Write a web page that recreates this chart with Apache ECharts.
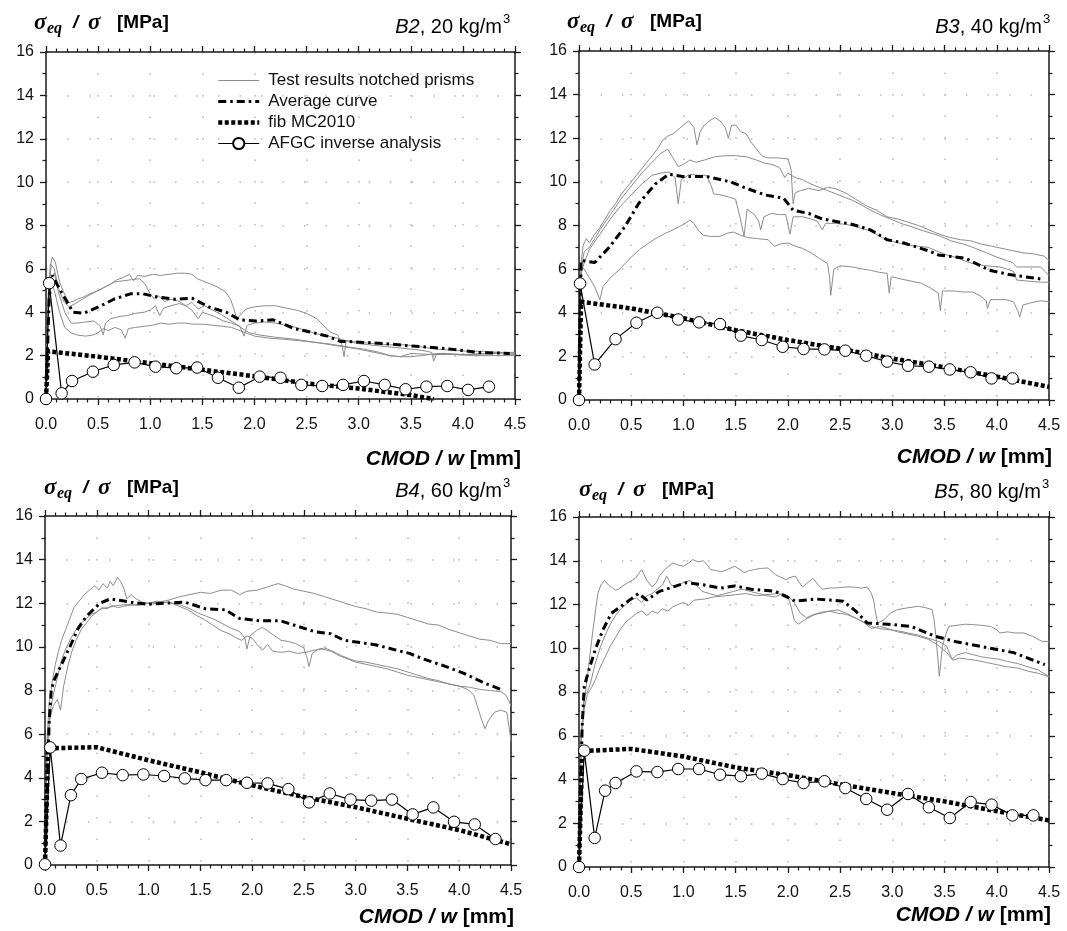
<!DOCTYPE html>
<html><head><meta charset="utf-8">
<script src="https://cdn.jsdelivr.net/npm/echarts@6/dist/echarts.min.js"></script>
<style>html,body{margin:0;padding:0;background:#fff}#c{width:1067px;height:931px}</style>
</head><body><div id="c"></div>
<script>
// ---------- DATA ----------
const panelLabels = ['B2', 'B3', 'B4', 'B5'];
const dosages = ['20', '40', '60', '80'];
const seriesNames = ['Test results notched prisms', 'Average curve', 'fib MC2010', 'AFGC inverse analysis'];

// B2, 20 kg/m3
const b2Test1 = [[0,0],[0.02,4.8],[0.04,6.1],[0.06,6.55],[0.09,6.3],[0.13,5.4],[0.18,4.8],[0.22,4.45],[0.26,4.5],[0.3,4.6],[0.36,4.7],[0.42,4.85],[0.5,5.0],[0.56,5.15],[0.62,5.3],[0.68,5.5],[0.74,5.6],[0.8,5.75],[0.84,5.45],[0.88,5.7],[0.95,5.65],[1.02,5.75],[1.1,5.7],[1.18,5.75],[1.26,5.8],[1.34,5.8],[1.4,5.75],[1.45,5.55],[1.5,5.45],[1.58,5.3],[1.65,5.15],[1.72,4.95],[1.77,4.6],[1.8,4.2],[1.83,3.7],[1.87,3.9],[1.92,4.15],[2.0,4.25],[2.1,4.3],[2.2,4.3],[2.3,4.2],[2.4,4.1],[2.5,3.95],[2.6,3.7],[2.66,3.4],[2.72,3.1],[2.8,2.95],[2.84,2.5],[2.86,1.95],[2.88,2.7],[2.95,2.65],[3.05,2.6],[3.15,2.55],[3.3,2.5],[3.45,2.5],[3.6,2.4],[3.75,2.3],[3.9,2.25],[4.05,2.2],[4.2,2.2],[4.35,2.15],[4.5,2.15]];
const b2Test2 = [[0,0],[0.02,4.5],[0.05,6.2],[0.08,6.0],[0.12,5.1],[0.17,4.5],[0.22,4.25],[0.28,4.4],[0.35,4.6],[0.42,4.8],[0.5,5.0],[0.58,5.2],[0.66,5.4],[0.74,5.45],[0.82,5.5],[0.9,5.55],[0.95,5.3],[1.0,4.85],[1.04,4.6],[1.08,4.75],[1.14,4.5],[1.2,4.6],[1.28,4.5],[1.34,4.3],[1.4,4.45],[1.46,4.15],[1.52,4.3],[1.6,4.1],[1.68,3.9],[1.76,3.65],[1.84,3.4],[1.9,3.2],[1.95,3.05],[2.05,2.95],[2.2,2.85],[2.4,2.75],[2.6,2.6],[2.8,2.45],[3.0,2.3],[3.15,2.15],[3.3,2.0],[3.4,1.95],[3.5,2.1],[3.7,2.05],[3.9,2.05],[4.1,2.05],[4.3,2.1],[4.5,2.05]];
const b2Test3 = [[0,0],[0.02,4.2],[0.05,5.6],[0.08,5.8],[0.12,4.9],[0.18,4.0],[0.24,3.5],[0.3,3.5],[0.38,3.55],[0.46,3.6],[0.52,3.35],[0.55,2.95],[0.57,3.5],[0.62,3.7],[0.7,3.8],[0.78,3.85],[0.86,3.95],[0.94,4.0],[1.0,4.1],[1.05,4.3],[1.09,3.85],[1.13,4.2],[1.2,4.3],[1.28,4.4],[1.34,4.3],[1.4,4.1],[1.46,3.7],[1.5,4.0],[1.56,3.9],[1.62,3.8],[1.7,3.6],[1.78,3.5],[1.86,3.35],[1.9,2.9],[1.93,3.4],[2.0,3.5],[2.1,3.55],[2.2,3.5],[2.3,3.4],[2.4,3.3],[2.5,3.15],[2.6,3.0],[2.7,2.9],[2.8,2.8],[2.9,2.65],[3.0,2.55],[3.1,2.5],[3.2,2.45],[3.3,2.4],[3.4,2.35],[3.5,2.3],[3.6,2.25],[3.7,2.15],[3.72,1.75],[3.75,2.1],[3.85,2.1],[4.0,2.05],[4.2,2.1],[4.35,2.15],[4.5,2.1]];
const b2Test4 = [[0,0],[0.02,4.0],[0.05,5.4],[0.08,5.0],[0.13,4.0],[0.18,3.3],[0.24,3.05],[0.3,2.95],[0.38,2.9],[0.45,2.95],[0.5,3.05],[0.55,3.25],[0.6,3.15],[0.66,3.3],[0.72,3.2],[0.76,2.8],[0.79,3.25],[0.86,3.3],[0.94,3.35],[1.02,3.4],[1.1,3.5],[1.18,3.45],[1.26,3.5],[1.34,3.5],[1.42,3.45],[1.5,3.45],[1.6,3.4],[1.7,3.35],[1.78,3.3],[1.86,3.15],[1.92,3.05],[2.0,2.9],[2.15,2.8],[2.3,2.75],[2.5,2.65],[2.7,2.55],[2.9,2.4],[3.05,2.3],[3.2,2.15],[3.3,2.0],[3.4,1.95],[3.5,1.95],[3.6,2.0],[3.75,2.1],[3.9,2.05],[4.1,2.0],[4.3,2.0],[4.5,2.0]];
const b2Avg = [[0,0],[0.03,4.6],[0.06,5.7],[0.15,4.9],[0.26,4.0],[0.36,3.95],[0.55,4.35],[0.65,4.6],[0.81,4.85],[0.93,4.85],[1.07,4.7],[1.24,4.6],[1.4,4.65],[1.56,4.25],[1.73,4.0],[1.86,3.65],[2.02,3.6],[2.18,3.65],[2.38,3.25],[2.57,3.05],[2.7,2.9],[2.83,2.65],[2.9,2.65],[3.09,2.6],[3.26,2.55],[3.49,2.45],[3.65,2.4],[3.88,2.3],[4.14,2.15],[4.45,2.1]];
const b2Fib = [[0,0],[0.02,2.2],[0.5,1.95],[1.0,1.65],[1.5,1.35],[2.0,1.05],[2.5,0.72],[3.0,0.48],[3.5,0.18],[3.72,0]];
const b2AfgcW = [0,0.03,0.15,0.25,0.45,0.65,0.85,1.05,1.25,1.45,1.65,1.85,2.05,2.25,2.45,2.65,2.85,3.05,3.25,3.45,3.65,3.85,4.05,4.25];
const b2AfgcS = [0,5.34,0.26,0.83,1.26,1.57,1.69,1.49,1.42,1.45,0.98,0.52,1.03,0.98,0.65,0.6,0.65,0.83,0.65,0.45,0.57,0.6,0.42,0.57];

// B3, 40 kg/m3
const b3Test1 = [[0,0],[0.02,6.3],[0.04,7.1],[0.07,7.4],[0.1,7.2],[0.15,7.6],[0.2,7.9],[0.25,8.3],[0.3,8.7],[0.35,9.0],[0.4,9.4],[0.45,9.7],[0.5,10.0],[0.55,10.3],[0.6,10.6],[0.65,10.9],[0.7,11.2],[0.75,11.5],[0.8,11.9],[0.85,12.1],[0.9,12.2],[0.95,12.4],[1.0,12.6],[1.05,12.8],[1.1,12.5],[1.13,11.7],[1.16,12.3],[1.2,12.6],[1.25,12.8],[1.3,12.95],[1.35,12.8],[1.4,12.5],[1.43,12.0],[1.46,12.6],[1.5,12.6],[1.55,12.3],[1.6,12.2],[1.65,11.8],[1.7,11.5],[1.75,11.2],[1.8,11.1],[1.9,11.1],[2.0,11.05],[2.03,10.6],[2.05,9.0],[2.07,9.5],[2.12,9.6],[2.2,9.7],[2.3,9.6],[2.38,9.75],[2.45,9.7],[2.55,9.5],[2.65,9.2],[2.75,8.9],[2.85,8.7],[2.95,8.4],[3.05,8.3],[3.15,8.15],[3.25,8.0],[3.35,7.8],[3.45,7.6],[3.55,7.45],[3.65,7.35],[3.75,7.3],[3.85,7.15],[3.95,7.05],[4.05,6.95],[4.15,6.85],[4.25,6.75],[4.35,6.7],[4.45,6.6],[4.5,6.4]];
const b3Test2 = [[0,0],[0.02,6.0],[0.05,6.8],[0.1,7.0],[0.15,7.4],[0.2,7.8],[0.3,8.5],[0.4,9.2],[0.5,9.8],[0.6,10.4],[0.7,10.9],[0.78,11.3],[0.85,11.5],[0.9,11.1],[0.95,10.7],[1.0,10.8],[1.06,11.0],[1.12,10.9],[1.2,11.0],[1.3,11.15],[1.4,11.2],[1.5,11.2],[1.6,11.15],[1.7,11.0],[1.78,10.85],[1.85,10.8],[1.92,10.65],[1.97,10.2],[2.0,10.4],[2.07,10.2],[2.14,10.1],[2.22,9.9],[2.3,9.75],[2.38,9.6],[2.46,9.45],[2.54,9.3],[2.62,9.15],[2.7,8.95],[2.79,8.7],[2.88,8.5],[2.98,8.3],[3.08,8.1],[3.18,7.95],[3.3,7.75],[3.44,7.55],[3.56,7.3],[3.68,7.15],[3.77,7.0],[3.9,6.75],[4.0,6.55],[4.09,6.4],[4.15,6.3],[4.19,6.1],[4.3,6.1],[4.42,6.1],[4.46,5.9],[4.5,5.7]];
const b3Test3 = [[0,0],[0.02,5.8],[0.05,6.3],[0.1,6.9],[0.2,7.6],[0.3,8.3],[0.4,8.9],[0.5,9.4],[0.6,9.9],[0.7,10.3],[0.78,10.4],[0.86,10.45],[0.92,10.2],[0.95,9.0],[0.98,10.1],[1.06,10.35],[1.14,10.3],[1.22,10.3],[1.26,9.9],[1.29,9.45],[1.36,9.4],[1.44,9.3],[1.5,9.2],[1.55,8.2],[1.58,7.5],[1.61,8.75],[1.68,8.5],[1.72,8.2],[1.74,7.8],[1.77,8.4],[1.84,8.55],[1.92,8.5],[1.98,8.5],[2.02,7.6],[2.05,8.4],[2.14,8.4],[2.22,8.3],[2.28,8.2],[2.33,7.8],[2.36,8.1],[2.45,8.1],[2.56,8.05],[2.68,7.9],[2.79,7.75],[2.9,7.45],[2.98,7.3],[3.06,7.2],[3.14,7.1],[3.24,7.05],[3.34,7.0],[3.44,6.8],[3.52,6.65],[3.6,6.55],[3.68,6.4],[3.77,6.25],[3.9,6.15],[4.03,6.1],[4.1,6.0],[4.16,5.9],[4.19,5.5],[4.3,5.45],[4.42,5.4],[4.5,5.4]];
const b3Test4 = [[0,0],[0.02,6.1],[0.05,6.0],[0.1,5.6],[0.15,5.2],[0.2,4.6],[0.23,5.2],[0.3,5.6],[0.38,5.95],[0.45,6.3],[0.5,6.55],[0.58,6.9],[0.67,7.2],[0.75,7.45],[0.83,7.65],[0.9,7.8],[0.96,7.95],[1.02,8.1],[1.06,8.25],[1.1,8.1],[1.14,7.8],[1.19,7.55],[1.26,7.5],[1.35,7.5],[1.42,7.65],[1.48,7.7],[1.55,7.55],[1.61,7.45],[1.7,7.4],[1.81,7.35],[1.87,7.05],[1.93,7.15],[2.0,7.2],[2.07,7.05],[2.14,6.95],[2.22,6.75],[2.3,6.5],[2.38,6.25],[2.4,5.6],[2.41,4.8],[2.44,6.0],[2.5,6.15],[2.62,6.1],[2.72,6.0],[2.79,5.95],[2.88,5.85],[2.95,5.8],[2.97,4.9],[2.99,5.65],[3.08,5.55],[3.18,5.45],[3.28,5.35],[3.36,5.15],[3.44,4.9],[3.46,4.1],[3.48,5.0],[3.58,5.0],[3.68,4.95],[3.77,4.95],[3.85,4.75],[3.9,4.55],[3.91,4.2],[3.94,4.6],[4.02,4.6],[4.09,4.6],[4.16,4.5],[4.2,4.1],[4.22,3.8],[4.25,4.35],[4.32,4.45],[4.42,4.55],[4.5,4.5]];
const b3Avg = [[0,0],[0.02,6.4],[0.15,6.3],[0.29,7.0],[0.44,7.95],[0.57,9.0],[0.73,9.9],[0.86,10.35],[0.99,10.25],[1.22,10.25],[1.45,10.0],[1.58,9.75],[1.78,9.4],[1.96,9.25],[2.05,8.7],[2.2,8.55],[2.33,8.3],[2.62,8.05],[2.79,7.8],[2.95,7.35],[3.11,7.2],[3.34,6.85],[3.44,6.65],[3.7,6.5],[3.93,5.95],[4.12,5.75],[4.42,5.55]];
const b3Fib = [[0,0],[0.02,4.5],[0.5,4.2],[1.0,3.75],[1.5,3.2],[2.0,2.75],[2.5,2.35],[3.0,1.9],[3.5,1.5],[4.0,1.07],[4.5,0.6]];
const b3AfgcW = [0,0.01,0.15,0.35,0.55,0.75,0.95,1.15,1.35,1.55,1.75,1.95,2.15,2.35,2.55,2.75,2.95,3.15,3.35,3.55,3.75,3.95,4.15];
const b3AfgcS = [0,5.34,1.63,2.79,3.54,4.0,3.69,3.56,3.48,2.95,2.75,2.44,2.34,2.32,2.26,2.03,1.76,1.57,1.53,1.40,1.27,0.99,0.99];

// B4, 60 kg/m3
const b4Test1 = [[0,0],[0.02,5.8],[0.04,7.4],[0.07,8.4],[0.1,9.2],[0.13,9.8],[0.16,10.3],[0.2,10.8],[0.24,11.3],[0.28,11.8],[0.33,12.1],[0.38,12.4],[0.43,12.6],[0.48,12.8],[0.52,12.6],[0.56,12.9],[0.6,12.7],[0.63,13.0],[0.66,12.8],[0.7,13.2],[0.73,13.0],[0.76,12.7],[0.79,12.2],[0.83,12.4],[0.88,12.2],[0.94,12.05],[1.0,12.0],[1.08,12.1],[1.16,12.05],[1.24,12.0],[1.32,11.9],[1.4,11.75],[1.48,11.55],[1.56,11.4],[1.64,11.25],[1.72,11.05],[1.8,10.85],[1.88,10.7],[1.93,10.4],[1.95,9.9],[1.98,10.5],[2.04,10.75],[2.1,10.9],[2.16,10.7],[2.22,10.5],[2.28,10.3],[2.35,10.25],[2.42,10.15],[2.5,9.95],[2.53,9.5],[2.55,9.1],[2.58,9.7],[2.64,9.9],[2.7,9.95],[2.78,9.8],[2.86,9.6],[2.94,9.45],[3.0,9.35],[3.1,9.3],[3.2,9.2],[3.3,9.1],[3.4,9.0],[3.5,8.85],[3.6,8.7],[3.7,8.55],[3.8,8.45],[3.9,8.3],[4.0,8.2],[4.1,8.15],[4.2,8.05],[4.3,8.0],[4.4,7.95],[4.45,7.8],[4.5,7.3]];
const b4Test2 = [[0,0],[0.02,5.5],[0.05,7.0],[0.08,7.8],[0.12,8.6],[0.16,9.4],[0.2,9.9],[0.25,10.4],[0.3,10.8],[0.35,11.1],[0.4,11.3],[0.45,11.5],[0.5,11.6],[0.55,11.75],[0.6,11.8],[0.7,11.9],[0.8,11.95],[0.9,11.9],[1.0,12.0],[1.1,12.05],[1.2,12.15],[1.3,12.3],[1.4,12.4],[1.5,12.5],[1.6,12.45],[1.7,12.6],[1.8,12.6],[1.88,12.4],[1.95,12.55],[2.05,12.6],[2.15,12.75],[2.25,12.9],[2.32,12.8],[2.4,12.65],[2.5,12.55],[2.6,12.45],[2.7,12.3],[2.8,12.15],[2.9,12.0],[3.0,11.85],[3.1,11.75],[3.2,11.6],[3.3,11.55],[3.4,11.5],[3.5,11.35],[3.6,11.2],[3.7,11.05],[3.8,11.0],[3.9,10.8],[4.0,10.65],[4.1,10.5],[4.2,10.35],[4.3,10.3],[4.4,10.15],[4.5,10.15]];
const b4Test3 = [[0,0],[0.02,5.2],[0.05,6.8],[0.08,7.3],[0.12,7.6],[0.15,7.1],[0.18,8.2],[0.22,9.1],[0.26,9.8],[0.3,10.3],[0.35,10.8],[0.4,11.1],[0.45,11.4],[0.5,11.6],[0.55,11.8],[0.6,11.75],[0.65,11.9],[0.7,11.8],[0.75,11.85],[0.8,11.9],[0.9,11.95],[1.0,12.0],[1.1,12.0],[1.2,12.05],[1.3,11.85],[1.38,11.7],[1.46,11.45],[1.54,11.25],[1.62,11.0],[1.7,10.75],[1.78,10.6],[1.85,10.4],[1.9,10.3],[1.95,10.5],[2.0,10.4],[2.05,10.1],[2.1,9.85],[2.15,10.1],[2.2,9.8],[2.28,9.75],[2.36,9.8],[2.44,9.7],[2.52,9.75],[2.6,9.85],[2.68,9.9],[2.76,9.8],[2.84,9.6],[2.92,9.45],[3.0,9.3],[3.1,9.2],[3.2,9.1],[3.3,9.0],[3.4,8.85],[3.5,8.7],[3.6,8.6],[3.7,8.5],[3.8,8.4],[3.9,8.3],[4.0,8.2],[4.08,8.05],[4.14,7.8],[4.18,7.2],[4.22,6.6],[4.25,6.25],[4.28,6.6],[4.34,7.0],[4.4,7.1],[4.46,7.0],[4.5,5.7]];
const b4Avg = [[0,0],[0.04,6.5],[0.06,8.0],[0.09,8.5],[0.15,9.1],[0.24,10.0],[0.32,10.85],[0.4,11.4],[0.53,12.0],[0.63,12.2],[0.83,12.05],[0.99,11.95],[1.15,12.0],[1.35,12.05],[1.55,11.75],[1.74,11.7],[1.88,11.3],[2.07,11.2],[2.27,11.2],[2.47,10.9],[2.6,10.7],[2.76,10.6],[2.89,10.3],[3.19,10.1],[3.35,9.9],[3.52,9.7],[3.65,9.45],[3.84,9.15],[4.04,8.8],[4.24,8.35],[4.43,8.0]];
const b4Fib = [[0,0],[0.03,5.35],[0.5,5.4],[1.0,4.8],[1.5,4.25],[2.0,3.65],[2.5,3.12],[3.0,2.65],[3.5,2.12],[4.0,1.6],[4.5,0.95]];
const b4AfgcW = [0,0.05,0.15,0.25,0.35,0.55,0.75,0.95,1.15,1.35,1.55,1.75,1.95,2.15,2.35,2.55,2.75,2.95,3.15,3.35,3.55,3.75,3.95,4.15,4.35];
const b4AfgcS = [0.03,5.39,0.89,3.2,3.94,4.23,4.12,4.15,4.08,3.97,3.89,3.89,3.77,3.74,3.48,2.87,3.28,3.0,2.95,3.0,2.32,2.64,1.98,1.86,1.19];

// B5, 80 kg/m3
const b5Test1 = [[0,0],[0.02,5.5],[0.05,7.6],[0.08,8.6],[0.1,9.5],[0.13,10.7],[0.16,11.8],[0.18,12.5],[0.21,12.9],[0.245,13.1],[0.28,12.9],[0.31,12.8],[0.35,12.65],[0.38,12.7],[0.42,12.85],[0.47,13.0],[0.54,13.2],[0.57,13.4],[0.6,13.6],[0.63,13.3],[0.65,13.1],[0.7,12.8],[0.74,13.0],[0.77,13.3],[0.82,13.6],[0.86,13.75],[0.9,13.9],[0.95,13.8],[1.0,13.75],[1.05,13.9],[1.09,14.05],[1.14,13.95],[1.19,14.0],[1.23,13.8],[1.26,13.6],[1.31,13.55],[1.36,13.5],[1.42,13.6],[1.49,13.75],[1.54,13.6],[1.58,13.45],[1.63,13.55],[1.68,13.6],[1.74,13.65],[1.81,13.67],[1.88,13.37],[1.93,13.25],[1.98,13.14],[2.03,13.25],[2.07,13.3],[2.11,13.0],[2.14,12.8],[2.19,13.0],[2.24,13.2],[2.29,12.9],[2.33,12.7],[2.4,12.75],[2.47,12.76],[2.55,12.8],[2.63,12.8],[2.7,12.75],[2.76,12.8],[2.8,12.5],[2.82,12.2],[2.84,11.6],[2.86,11.16],[2.92,11.3],[2.98,11.6],[3.05,11.77],[3.15,11.85],[3.25,11.92],[3.32,11.85],[3.38,11.77],[3.4,11.3],[3.42,10.4],[3.45,8.72],[3.48,10.1],[3.51,10.6],[3.54,11.0],[3.62,11.05],[3.7,11.1],[3.77,11.08],[3.85,11.05],[3.94,11.0],[4.0,10.85],[4.03,10.7],[4.1,10.75],[4.18,10.7],[4.26,10.7],[4.34,10.55],[4.43,10.32],[4.5,10.3]];
const b5Test2 = [[0,0],[0.02,6.0],[0.05,7.8],[0.08,8.0],[0.11,8.4],[0.15,9.2],[0.2,10.0],[0.25,10.6],[0.3,11.1],[0.35,11.5],[0.4,11.8],[0.45,12.0],[0.5,12.2],[0.55,12.3],[0.6,12.1],[0.65,12.4],[0.7,12.5],[0.75,12.7],[0.8,12.9],[0.84,13.3],[0.88,12.9],[0.93,12.8],[1.0,13.0],[1.06,13.1],[1.12,12.9],[1.18,12.6],[1.25,12.5],[1.32,12.4],[1.4,12.5],[1.48,12.6],[1.56,12.7],[1.64,12.6],[1.72,12.5],[1.8,12.4],[1.88,12.35],[1.95,12.5],[2.0,12.4],[2.03,11.9],[2.06,11.3],[2.1,11.1],[2.16,11.3],[2.24,11.5],[2.32,11.65],[2.4,11.7],[2.48,11.75],[2.56,11.6],[2.64,11.4],[2.72,11.2],[2.8,11.0],[2.88,10.9],[2.96,10.85],[3.05,10.8],[3.15,10.7],[3.25,10.6],[3.35,10.45],[3.45,10.3],[3.52,10.1],[3.57,9.5],[3.62,9.7],[3.7,9.8],[3.78,9.7],[3.86,9.6],[3.94,9.55],[4.02,9.5],[4.1,9.4],[4.2,9.3],[4.3,9.15],[4.4,9.0],[4.5,8.7]];
const b5Test3 = [[0,0],[0.02,5.8],[0.05,7.2],[0.08,7.9],[0.12,8.2],[0.16,8.6],[0.2,9.1],[0.25,9.6],[0.3,10.1],[0.35,10.5],[0.4,10.9],[0.45,11.2],[0.5,11.4],[0.55,11.6],[0.6,11.7],[0.65,11.5],[0.7,11.7],[0.75,11.6],[0.8,11.8],[0.85,11.7],[0.9,11.9],[0.95,12.0],[1.0,12.1],[1.05,11.95],[1.1,12.2],[1.2,12.25],[1.3,12.35],[1.4,12.4],[1.5,12.45],[1.6,12.5],[1.7,12.4],[1.8,12.45],[1.9,12.5],[2.0,12.4],[2.06,12.1],[2.12,11.6],[2.18,11.4],[2.25,11.55],[2.32,11.6],[2.4,11.7],[2.48,11.6],[2.56,11.55],[2.64,11.4],[2.72,11.2],[2.8,10.9],[2.88,11.0],[2.96,10.9],[3.05,10.75],[3.15,10.65],[3.25,10.55],[3.35,10.4],[3.45,10.1],[3.52,9.8],[3.58,9.45],[3.64,9.55],[3.72,9.5],[3.8,9.45],[3.9,9.35],[4.0,9.25],[4.1,9.15],[4.2,9.1],[4.3,8.95],[4.4,8.85],[4.5,8.7]];
const b5Avg = [[0,0],[0.03,6.4],[0.05,8.25],[0.1,9.1],[0.16,10.0],[0.23,10.85],[0.31,11.6],[0.44,12.05],[0.57,12.5],[0.65,12.2],[0.77,12.6],[0.9,12.8],[1.03,13.0],[1.19,12.9],[1.36,12.75],[1.49,12.85],[1.65,12.7],[1.88,12.6],[2.01,12.3],[2.07,12.15],[2.27,12.25],[2.53,12.15],[2.65,11.7],[2.76,11.15],[2.96,11.1],[3.18,11.0],[3.41,10.55],[3.61,10.3],[3.94,10.0],[4.16,9.8],[4.46,9.25]];
const b5Fib = [[0,0],[0.03,5.3],[0.5,5.4],[1.0,5.05],[1.5,4.55],[2.0,4.2],[2.5,3.78],[3.0,3.38],[3.5,3.0],[4.0,2.55],[4.5,2.13]];
const b5AfgcW = [0,0.05,0.15,0.25,0.35,0.55,0.75,0.95,1.15,1.35,1.55,1.75,1.95,2.15,2.35,2.55,2.75,2.95,3.15,3.35,3.55,3.75,3.95,4.15,4.35];
const b5AfgcS = [0,5.32,1.33,3.49,3.84,4.37,4.34,4.48,4.48,4.22,4.15,4.27,4.02,3.84,3.92,3.61,3.11,2.62,3.34,2.73,2.24,2.97,2.85,2.36,2.36];

// ---------- BUILD ----------
const panels = [
  {tests:[b2Test1,b2Test2,b2Test3,b2Test4], avg:b2Avg, fib:b2Fib, aw:b2AfgcW, as:b2AfgcS},
  {tests:[b3Test1,b3Test2,b3Test3,b3Test4], avg:b3Avg, fib:b3Fib, aw:b3AfgcW, as:b3AfgcS},
  {tests:[b4Test1,b4Test2,b4Test3], avg:b4Avg, fib:b4Fib, aw:b4AfgcW, as:b4AfgcS},
  {tests:[b5Test1,b5Test2,b5Test3], avg:b5Avg, fib:b5Fib, aw:b5AfgcW, as:b5AfgcS}
];
const gridBoxes = [
  {left:46, top:52, width:469, height:347},
  {left:579, top:51, width:470, height:349},
  {left:45, top:516, width:466, height:349},
  {left:579, top:517, width:470, height:350}
];
const yTitlePos = [[34,23],[567,22],[44,488],[579,490]];
const rTitlePos = [[511,27],[1051,27],[511,491],[1050,492]];
const xTitlePos = [[521,459],[1052,457],[514,917],[1051,915]];

const FONT = 'Liberation Sans';
const axisCol = '#1a1a1a';
const gridLine = {show:true, lineStyle:{color:'#b8b8b8', width:1.5, type:[1.5,20]}};
const noFill = 'rgba(0,0,0,0)';

const grid = [], xAxis = [], yAxis = [], series = [], graphic = [];
gridBoxes.forEach((g, i) => {
  grid.push(Object.assign({outerBoundsMode:'none', containLabel:false}, g));
  const tickBase = {show:true, length:6, lineStyle:{color:axisCol, width:1.3}};
  const lineBase = {show:true, onZero:false, lineStyle:{color:axisCol, width:1.5}};
  const minorX = {show:true, splitNumber:5, length:3.5, lineStyle:{color:axisCol, width:1.2}};
  const minorY = {show:true, splitNumber:2, length:3.5, lineStyle:{color:axisCol, width:1.2}};
  xAxis.push({gridIndex:i, type:'value', min:0, max:4.5, interval:0.5, position:'bottom',
    axisLine:lineBase, axisTick:tickBase, minorTick:minorX,
    axisLabel:{show:true, fontSize:16, color:'#111', fontFamily:FONT, margin:18, showMinLabel:true, showMaxLabel:true,
      formatter:v => v.toFixed(1)},
    splitLine:gridLine, minorSplitLine:{show:false}});
  xAxis.push({gridIndex:i, type:'value', min:0, max:4.5, interval:0.5, position:'top',
    axisLine:lineBase, axisTick:tickBase, minorTick:minorX,
    axisLabel:{show:false}, splitLine:{show:false}});
  yAxis.push({gridIndex:i, type:'value', min:0, max:16, interval:2, position:'left',
    axisLine:lineBase, axisTick:tickBase, minorTick:minorY,
    axisLabel:{show:true, fontSize:16, color:'#111', fontFamily:FONT, margin:12, showMinLabel:true, showMaxLabel:true},
    splitLine:gridLine});
  yAxis.push({gridIndex:i, type:'value', min:0, max:16, interval:2, position:'right',
    axisLine:lineBase, axisTick:tickBase, minorTick:minorY,
    axisLabel:{show:false}, splitLine:{show:false}});

  const p = panels[i];
  p.tests.forEach(t => series.push({type:'line', name:seriesNames[0], xAxisIndex:2*i, yAxisIndex:2*i,
    data:t, symbol:'circle', showSymbol:false, z:2, lineStyle:{color:'#8c8c8c', width:1},
    itemStyle:{color:noFill, borderColor:noFill, borderWidth:0}}));
  series.push({type:'line', name:seriesNames[2], xAxisIndex:2*i, yAxisIndex:2*i, data:p.fib, symbol:'circle', showSymbol:false, z:3,
    lineStyle:{color:'#000', width:4.5, type:[4,2.5], cap:'butt'}, itemStyle:{color:noFill, borderColor:noFill, borderWidth:0}});
  series.push({type:'line', name:seriesNames[1], xAxisIndex:2*i, yAxisIndex:2*i, data:p.avg, symbol:'circle', showSymbol:false, z:4,
    lineStyle:{color:'#000', width:3, type:[8,4,2.5,4], cap:'butt'}, itemStyle:{color:noFill, borderColor:noFill, borderWidth:0}});
  series.push({type:'line', name:seriesNames[3], xAxisIndex:2*i, yAxisIndex:2*i,
    data:p.aw.map((w, k) => [w, p.as[k]]), symbol:'circle', symbolSize:11.5, showSymbol:true, z:5,
    lineStyle:{color:'#000', width:1.2}, itemStyle:{color:'#fff', borderColor:'#000', borderWidth:1}});

  // titles
  const [tx, ty] = yTitlePos[i];
  const serif = 'Liberation Serif';
  graphic.push({type:'text', x:tx, y:ty, style:{text:'σ', fontFamily:serif, fontStyle:'italic', fontWeight:'bold', fontSize:23, fill:'#000', verticalAlign:'middle'}});
  graphic.push({type:'text', x:tx+13, y:ty+6, style:{text:'eq', fontFamily:serif, fontStyle:'italic', fontWeight:'bold', fontSize:16, fill:'#000', verticalAlign:'middle'}});
  graphic.push({type:'text', x:tx+39, y:ty, style:{text:'/', fontFamily:FONT, fontStyle:'italic', fontWeight:'bold', fontSize:19, fill:'#000', verticalAlign:'middle'}});
  graphic.push({type:'text', x:tx+54, y:ty, style:{text:'σ', fontFamily:serif, fontStyle:'italic', fontWeight:'bold', fontSize:23, fill:'#000', verticalAlign:'middle'}});
  graphic.push({type:'text', x:tx+83, y:ty, style:{text:'[MPa]', fontFamily:FONT, fontWeight:'bold', fontSize:19, fill:'#000', verticalAlign:'middle'}});

  const [rx, ry] = rTitlePos[i];
  graphic.push({type:'text', x:rx-9, y:ry, style:{text:'{i|' + panelLabels[i] + '}{r|, ' + dosages[i] + ' kg/m}',
    rich:{i:{fontFamily:FONT, fontStyle:'italic', fontSize:20, fill:'#000'}, r:{fontFamily:FONT, fontSize:20, fill:'#000'}},
    align:'right', verticalAlign:'middle'}});
  graphic.push({type:'text', x:rx-8, y:ry-8, style:{text:'3', fontFamily:FONT, fontSize:13, fill:'#000', align:'left', verticalAlign:'middle'}});

  const [cx, cy] = xTitlePos[i];
  graphic.push({type:'text', x:cx, y:cy, style:{text:'{i|CMOD / w}{r| [mm]}',
    rich:{i:{fontFamily:FONT, fontStyle:'italic', fontWeight:'bold', fontSize:21, fill:'#000'}, r:{fontFamily:FONT, fontWeight:'bold', fontSize:21, fill:'#000'}},
    align:'right', verticalAlign:'middle'}});
});

const chart = echarts.init(document.getElementById('c'), null, {renderer:'canvas'});
chart.setOption({
  backgroundColor:'#fff',
  animation:false,
  grid, xAxis, yAxis, series, graphic,
  legend:{show:true, orient:'vertical', left:216, top:72, padding:0, itemWidth:41, itemHeight:14, itemGap:4,
    selectedMode:false, data:seriesNames,
    lineStyle:{width:'inherit'},
    textStyle:{fontSize:17, color:'#111', fontFamily:FONT, padding:[0,0,0,4]}}
});
</script></body></html>
